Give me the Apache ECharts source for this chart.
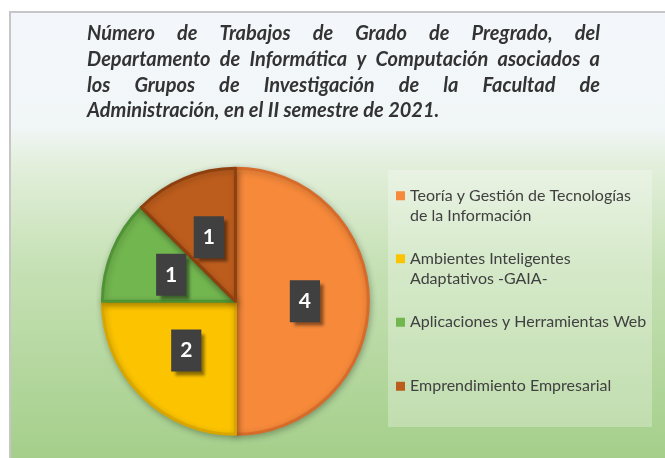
<!DOCTYPE html>
<html>
<head>
<meta charset="utf-8">
<script src="https://cdn.jsdelivr.net/npm/echarts@6/dist/echarts.min.js"></script>
<style>
  html, body { margin: 0; padding: 0; background: #ffffff; }
  #chart { width: 665px; height: 458px; }
</style>
</head>
<body>
<div id="chart"></div>
<script>
// Title, one entry per printed line (justified like the original)
const titleLines = [
    'Número de Trabajos de Grado de Pregrado, del',
    'Departamento de Informática y Computación asociados a',
    'los Grupos de Investigación de la Facultad de',
    'Administración, en el II semestre de 2021.'
]

const categories = [
    'Teoría y Gestión de Tecnologías de la Información',
    'Ambientes Inteligentes Adaptativos -GAIA-',
    'Aplicaciones y Herramientas Web',
    'Emprendimiento Empresarial'
]
const legendLines = [
    'Teoría y Gestión de Tecnologías\nde la Información',
    'Ambientes Inteligentes\nAdaptativos -GAIA-',
    'Aplicaciones y Herramientas Web',
    'Emprendimiento Empresarial'
]
const values = [4, 2, 1, 1]

const sliceColors = ['#f6893a', '#fcc400', '#72b64f', '#bd5d1d']
const rimColors = ['#d66b2a', '#d9a600', '#4e9434', '#8e400e']

const FONT = "Lato, 'Open Sans', sans-serif"

// justified title, measured with a canvas
function buildTitle() {
    const ctx = document.createElement('canvas').getContext('2d')
    const fontSpec = 'italic bold 20px Lato'
    ctx.font = fontSpec
    const left = 87, right = 600
    const baseY = 33.5, lineStep = 25.8
    const out = []
    titleLines.forEach((line, i) => {
        const words = line.split(' ')
        const y = baseY + i * lineStep
        const justify = i < titleLines.length - 1
        const widths = words.map(w => ctx.measureText(w).width)
        const total = widths.reduce((a, b) => a + b, 0)
        const gap = justify ? (right - left - total) / (words.length - 1) : ctx.measureText(' ').width
        let x = left
        words.forEach((w, k) => {
            out.push({
                type: 'text', x: x, y: y, silent: true,
                style: {
                    text: w, fill: '#333333', font: fontSpec,
                    verticalAlign: 'middle', align: 'left'
                }
            })
            x += widths[k] + gap
        })
    })
    return out
}

const chart = echarts.init(document.getElementById('chart'))

// legend tops (one legend per entry so the rows sit where the original has them)
const legendTops = [165, 228, 312, 376]

const legends = categories.map((name, i) => ({
    data: [name],
    orient: 'vertical',
    left: 396,
    top: legendTops[i],
    padding: 0,
    icon: 'rect',
    itemWidth: 9,
    itemHeight: 9,
    itemStyle: { borderWidth: 0 },
    selectedMode: false,
    formatter: n => {
        const t = legendLines[categories.indexOf(n)]
        return t.indexOf('\n') >= 0 ? '\n' + t : t
    },
    textStyle: { fontFamily: FONT, fontSize: 16, lineHeight: 20.5, color: '#404040' }
}))

chart.setOption({
    animation: false,
    textStyle: { fontFamily: FONT },
    graphic: [
        {
            type: 'rect', z: -10, silent: true,
            shape: { x: 10, y: 12, width: 700, height: 460 },
            style: {
                fill: new echarts.graphic.LinearGradient(0, 0, 0, 1, [
                    { offset: 0, color: '#f3f7fb' },
                    { offset: 0.25, color: '#f1f6f7' },
                    { offset: 0.33, color: '#e3efdc' },
                    { offset: 0.55, color: '#c6e1b5' },
                    { offset: 1, color: '#a2cd87' }
                ]),
                stroke: '#c6c6c6', lineWidth: 2
            }
        },
        {
            type: 'rect', z: -9, silent: true,
            shape: { x: 388, y: 170, width: 264, height: 257 },
            style: { fill: 'rgba(255,255,255,0.28)' }
        }
    ].concat(buildTitle()),
    legend: legends,
    series: [{
        type: 'pie',
        center: ['35.4%', '65.8%'],
        radius: 133,
        startAngle: 90,
        clockwise: true,
        data: categories.map((name, i) => ({
            name: name,
            value: values[i],
            itemStyle: {
                color: sliceColors[i],
                borderColor: rimColors[i],
                borderWidth: 3
            }
        })),
        itemStyle: {
            shadowBlur: 6,
            shadowColor: 'rgba(0,0,0,0.25)',
            shadowOffsetX: 1,
            shadowOffsetY: 2
        },
        label: {
            position: 'inside',
            formatter: '{c}',
            color: '#ffffff',
            fontFamily: FONT,
            fontSize: 21,
            fontWeight: 'bold',
            lineHeight: 22,
            backgroundColor: '#404040',
            padding: [10, 9],
            shadowColor: 'rgba(0,0,0,0.45)',
            shadowBlur: 3,
            shadowOffsetX: 4,
            shadowOffsetY: 4
        },
        labelLine: { show: false },
        emphasis: { disabled: true }
    }]
})
</script>
</body>
</html>
